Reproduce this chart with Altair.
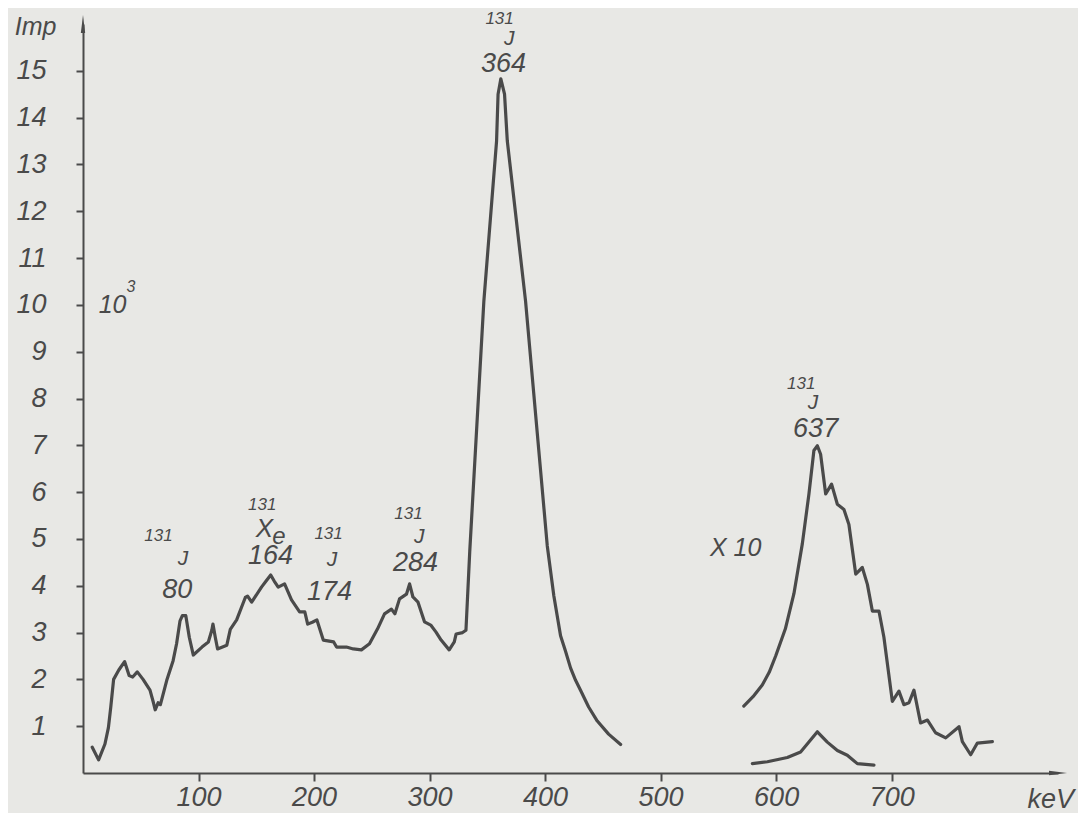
import altair as alt
import pandas as pd

# ---- data (keV, counts in units of 10^3) ----
main_kev = [8, 13.5, 19, 22, 24, 26.5, 31, 36, 40, 43, 47, 52, 58, 61, 62.5, 65, 67, 72.5,
            78, 81, 84, 86, 89, 92, 95.5, 103, 108.5, 111.5, 112.5, 114.5, 116.5, 124.5,
            127.5, 133, 140.5, 142.5, 146, 154.5, 158.5, 162.5, 165.5, 169, 174.5, 180.5,
            187.5, 192, 194.5, 198.5, 202.5, 208, 217, 219.5, 228, 234, 241, 248, 255, 261,
            267, 270, 274, 280, 282.7, 285.6, 290, 295.6, 301, 305.6, 310, 317, 321.4, 323,
            328.6, 331.5, 334.8, 347, 358, 359.3, 361.7, 364.9, 367.3, 383.1,
            401.9, 407.6, 413.4, 417.7, 422.1, 426.4, 431, 437.7, 445.2, 455, 465.4]
main_val = [0.55, 0.28, 0.62, 0.97, 1.4, 2.0, 2.2, 2.38, 2.08, 2.05, 2.16, 2.0, 1.77, 1.5, 1.35,
            1.5, 1.46, 1.98, 2.4, 2.76, 3.25, 3.36, 3.36, 2.9, 2.52, 2.69, 2.8, 3.05, 3.18, 2.9,
            2.65, 2.73, 3.07, 3.27, 3.75, 3.78, 3.65, 3.97, 4.1, 4.23, 4.1, 3.97, 4.04, 3.7,
            3.44, 3.44, 3.18, 3.22, 3.27, 2.84, 2.8, 2.69, 2.69, 2.65, 2.63, 2.76, 3.08, 3.4,
            3.5, 3.4, 3.72, 3.82, 4.04, 3.76, 3.65, 3.23, 3.16, 3.01, 2.84, 2.63, 2.8, 2.97,
            3.0, 3.05, 4.74, 10.08, 13.5, 14.5, 14.83, 14.5, 13.5, 10.08,
            4.85, 3.78, 2.93, 2.60, 2.24, 1.98, 1.75, 1.41, 1.11, 0.83, 0.61]

x10_kev = [572, 580, 588, 594, 599.6, 608, 615.4, 622.7, 628.4, 632.7, 635.7, 638.5, 642.9, 648,
           653, 658.7, 663, 668.9, 674.6, 679, 683.3, 689, 693.3, 700.6, 706.3, 710.6, 715,
           719.3, 725, 731, 738, 746.8, 758.3, 761.2, 768.4, 774.2, 787.2]
x10_val = [1.43, 1.63, 1.88, 2.15, 2.50, 3.08, 3.83, 4.90, 5.96, 6.89, 6.99, 6.81, 5.96, 6.17,
           5.74, 5.63, 5.31, 4.25, 4.39, 4.03, 3.46, 3.46, 2.90, 1.53, 1.75, 1.46, 1.50, 1.77,
           1.07, 1.13, 0.86, 0.75, 0.99, 0.67, 0.39, 0.64, 0.67]

small_kev = [579.4, 592.4, 609.7, 621.2, 628, 635.7, 644.3, 653, 661.6, 670.3, 684.7]
small_val = [0.20, 0.24, 0.33, 0.45, 0.65, 0.88, 0.66, 0.48, 0.38, 0.20, 0.17]

x_ticks = [100, 200, 300, 400, 500, 600, 700]
y_ticks = list(range(1, 16))

ann_text = ["131", "J", "80",
            "131", "X", "e", "164",
            "131", "J", "174",
            "131", "J", "284",
            "131", "J", "364",
            "131", "J", "637",
            "X 10", "10", "3", "Imp", "keV"]
ann_kev = [65.4, 86.5, 81.6,
           155.2, 157, 169.5, 162.3,
           212.6, 215.5, 213.4,
           281.8, 291, 287.9,
           360.6, 369, 364.1,
           621.8, 632, 634.2,
           565, 25.6, 41.5, -41, 837.7]
ann_val = [5.06, 4.58, 3.91,
           5.72, 5.22, 5.04, 4.64,
           5.11, 4.54, 3.87,
           5.53, 5.04, 4.49,
           16.1, 15.68, 15.14,
           8.3, 7.9, 7.34,
           4.81, 10.0, 10.38, 15.94, -0.58]
ann_size = [17, 21, 27,
            17, 26, 24, 27,
            17, 21, 27,
            17, 21, 27,
            17, 21, 27,
            17, 21, 27,
            25, 25, 16, 25, 27]

X_MAX = 844
Y_MAX = 16

ink = "#4a4a4a"
font = "Liberation Sans"

curves = pd.concat([
    pd.DataFrame({"kev": main_kev, "val": main_val, "series": "main"}),
    pd.DataFrame({"kev": x10_kev, "val": x10_val, "series": "x10"}),
    pd.DataFrame({"kev": small_kev, "val": small_val, "series": "small"}),
])
curves["order"] = range(len(curves))

ann = pd.DataFrame({"text": ann_text, "kev": ann_kev, "val": ann_val, "size": ann_size})
arrows = pd.DataFrame({"kev": [0, X_MAX], "val": [Y_MAX, 0], "dir": ["up", "right"]})

xs = alt.Scale(domain=[0, X_MAX], nice=False, zero=False)
ys = alt.Scale(domain=[0, Y_MAX], nice=False, zero=False)

x_axis = alt.Axis(values=x_ticks, title=None, grid=False, domainColor=ink, domainWidth=2,
                  tickColor=ink, tickWidth=2, tickSize=8, labelFont=font, labelFontSize=27,
                  labelFontStyle="italic", labelColor=ink, labelPadding=3, labelFlush=False)
y_axis = alt.Axis(values=y_ticks, title=None, grid=False, domainColor=ink, domainWidth=2,
                  tickColor=ink, tickWidth=2, tickSize=7, labelFont=font, labelFontSize=27,
                  labelFontStyle="italic", labelColor=ink, labelPadding=30, labelFlush=False)

lines = alt.Chart(curves).mark_line(color=ink, strokeWidth=3.2, strokeJoin="round",
                                    strokeCap="round").encode(
    x=alt.X("kev:Q", scale=xs, axis=x_axis),
    y=alt.Y("val:Q", scale=ys, axis=y_axis),
    detail="series:N",
    order="order:Q",
)

texts = alt.Chart(ann).mark_text(font=font, fontStyle="italic", color=ink, align="center",
                                 baseline="middle").encode(
    x=alt.X("kev:Q", scale=xs),
    y=alt.Y("val:Q", scale=ys),
    text="text:N",
    size=alt.Size("size:Q", scale=None),
)

up = alt.Chart(arrows[arrows["dir"] == "up"]).mark_point(
    shape="M0,-1L0.24,1L-0.24,1Z", filled=True, color=ink, opacity=1, size=324).encode(
    x=alt.X("kev:Q", scale=xs), y=alt.Y("val:Q", scale=ys))
right = alt.Chart(arrows[arrows["dir"] == "right"]).mark_point(
    shape="M1,0L-1,-0.24L-1,0.24Z", filled=True, color=ink, opacity=1, size=324).encode(
    x=alt.X("kev:Q", scale=xs), y=alt.Y("val:Q", scale=ys))

chart = alt.layer(lines, texts, up, right).properties(
    width=975, height=749,
    padding={"left": 75, "top": 16, "right": 20, "bottom": 40},
    autosize=alt.AutoSizeParams(type="none"),
).configure(background="#e8e8e5").configure_view(stroke=None)

chart.save("out.html", embed_options={"renderer": "svg", "actions": False})
